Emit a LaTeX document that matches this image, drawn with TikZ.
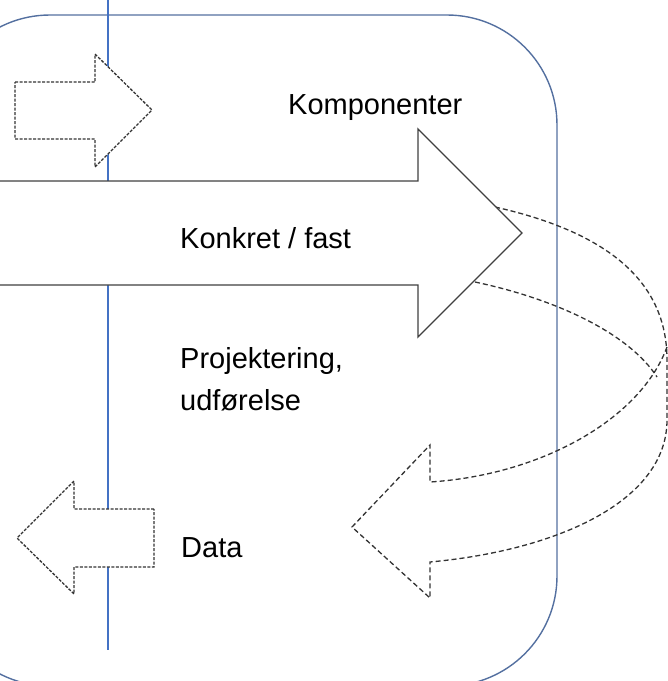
\documentclass[tikz,border=0pt]{standalone}
\usepackage{fontspec}
\setmainfont{Liberation Sans}
\usetikzlibrary{calc}
\definecolor{frameblue}{RGB}{84,112,160}
\definecolor{lineblue}{RGB}{68,114,196}
\tikzstyle{frame}=[draw=frameblue, line width=1.4pt, rounded corners=110pt]
\tikzstyle{axis}=[draw=lineblue, line width=2pt]
\tikzstyle{bigarrow}=[draw=black!75, fill=white, line width=1.4pt, line join=miter]
\tikzstyle{smallarrow}=[draw=black!80, fill=white, line width=1.3pt, dash pattern=on 3pt off 1.5pt]
\tikzstyle{curvearrow}=[draw=black!80, line width=1.3pt, dash pattern=on 5pt off 3pt]
\tikzstyle{annot}=[inner sep=0pt, anchor=base west, font=\fontsize{29}{42}\selectfont]
\begin{document}
\begin{tikzpicture}[x=1pt, y=-1pt]
	\useasboundingbox (0,0) rectangle (668,681);
	\clip (0,0) rectangle (668,681);

	% frame and time line
	\draw[frame] (-60,15) rectangle (557,686);
	\draw[axis] (108,-5) -- (108,650);

	% dashed curved arrow back to data
	\coordinate (c1) at (495,207);
	\coordinate (c2) at (475,282);
	\coordinate (c3) at (667,347);
	\draw[curvearrow] (c1) .. controls (620,235) and (667,290) .. (667,360) -- (667,420)
		.. controls (667,500) and (560,550) .. (430,562) -- (430,598) -- (352,527) -- (430,445) -- (430,482)
		.. controls (540,475) and (640,420) .. (c3);
	\draw[curvearrow] (c2) .. controls (560,300) and (630,335) .. (657,377);

	% main arrow
	\draw[bigarrow] (-5,181) -- (418,181) -- (418,129) -- (522,233) -- (418,337) -- (418,285) -- (-5,285);

	% in and out
	\draw[smallarrow] (15,82) -- (95,82) -- (95,54) -- (152,110) -- (95,167) -- (95,139) -- (15,139) -- cycle;
	\draw[smallarrow] (154,509) -- (74,509) -- (74,481) -- (17,538) -- (74,594) -- (74,567) -- (154,567) -- cycle;

	\node[annot] (komp) at (288,114) {Komponenter};
	\node[annot] (konkret) at (180,248) {Konkret / fast};
	\node[annot] (proj) at (180,368) {Projektering,};
	\node[annot] (udf) at (180,410) {udførelse};
	\node[annot] (data) at (181,557) {Data};
\end{tikzpicture}
\end{document}
